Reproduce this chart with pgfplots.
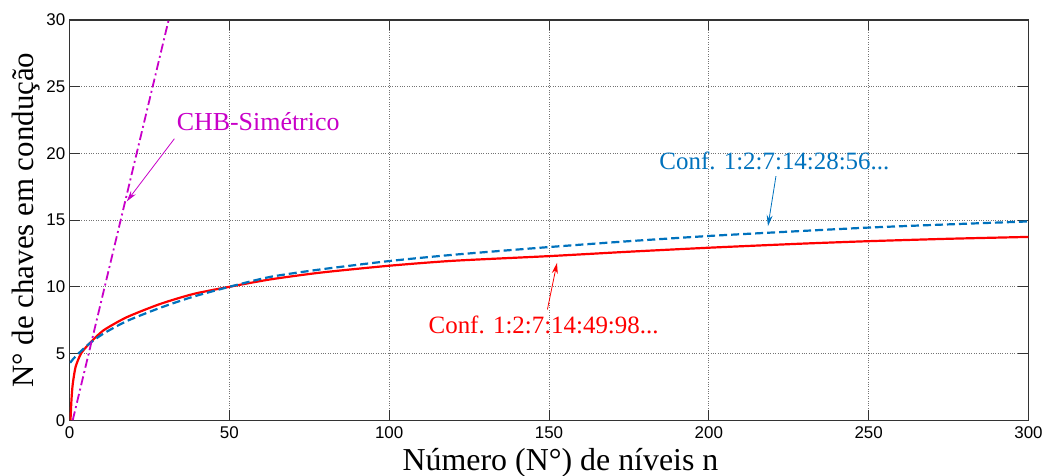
\documentclass[border=0pt]{standalone}
\usepackage{fontspec}
\setmainfont{Liberation Serif}
\newfontfamily\arialfont{Liberation Sans}
\newfontfamily\timesfont{Liberation Serif}
\usepackage{pgfplots}
\pgfplotsset{compat=1.18}
\usetikzlibrary{calc,arrows.meta}
\definecolor{mred}{RGB}{255,0,0}
\definecolor{mblue}{RGB}{0,114,189}
\definecolor{mmag}{RGB}{200,0,200}
\begin{document}
\begin{tikzpicture}
\begin{axis}[
  scale only axis, width=958.5bp, height=400bp,
  xmin=0, xmax=300, ymin=0, ymax=30,
  xtick={0,50,...,300}, ytick={0,5,...,30},
  grid=major, grid style={dotted, black!55, line width=0.9bp},
  tick align=inside, xtick pos=both, ytick pos=both,
  major tick length=10bp,
  tick style={black!80, line width=1bp},
  axis line style={black!80, line width=1.2bp},
  /pgf/number format/assume math mode=true,
  xticklabel style={font=\arialfont\fontsize{17}{20}\selectfont, anchor=north, inner sep=0pt, yshift=-6.5bp},
  yticklabel style={font=\arialfont\fontsize{17}{20}\selectfont, anchor=east, inner sep=0pt, xshift=-4bp},
  xlabel={Número (N°) de níveis n},
  ylabel={N° de chaves em condução},
  xlabel style={font=\timesfont\fontsize{32}{36}\selectfont, at={(axis description cs:0.512,-0.125)}, anchor=base, inner sep=0pt},
  ylabel style={font=\timesfont\fontsize{31}{36}\selectfont, at={(axis description cs:-0.0376,0.5)}, anchor=base, inner sep=0pt},
]
\coordinate (sw) at (rel axis cs:0,0);
\coordinate (ne) at (rel axis cs:1,1);
\addplot[mred, line width=2.2bp, smooth, tension=0.4] coordinates {
 (0.3,0) (0.6,1.5) (1,2.7) (1.9,4.0) (3.6,5.0) (6.2,5.74) (10.6,6.73) (17.9,7.72)
 (28.3,8.71) (38.7,9.46) (50,10) (62.7,10.55) (78.4,11.06) (100,11.58) (120,11.95)
 (150,12.3) (175,12.63) (200,12.93) (228.6,13.23) (250,13.42) (275,13.6) (300,13.74)};
\addplot[mblue, line width=2.2bp, dash pattern=on 8bp off 4bp, smooth, tension=0.4] coordinates {
 (0.2,4.3) (1,4.55) (2.8,5.0) (6.2,5.74) (10.6,6.49) (17.9,7.43) (28.3,8.42)
 (38.7,9.26) (50,10) (62.7,10.74) (78.4,11.3) (100,11.93) (120,12.4) (150,12.98)
 (175,13.42) (200,13.81) (222.3,14.1) (250,14.44) (275,14.68) (300,14.9)};
\addplot[mmag, line width=1.8bp, dash pattern=on 9bp off 3.5bp on 2bp off 3.5bp] coordinates {
 (1,0) (31,30)};
\node[mmag, anchor=base west, inner sep=0pt, font=\timesfont\fontsize{26}{30}\selectfont] at (axis cs:33.5,21.75) {CHB-Simétrico};
\draw[mmag, line width=0.8bp, -{Stealth[length=11bp,width=6bp]}] (axis cs:32.8,21.1) -- (axis cs:17.9,16.4);
\node[mblue, anchor=base west, inner sep=0pt, font=\timesfont\fontsize{25}{30}\selectfont] at (axis cs:184.5,18.8) {Conf. 1:2:7:14:28:56...};
\draw[mblue, line width=0.8bp, -{Stealth[length=11bp,width=6bp]}] (axis cs:221,18.3) -- (axis cs:218.5,14.55);
\node[mred, anchor=base west, inner sep=0pt, font=\timesfont\fontsize{25}{30}\selectfont] at (axis cs:112.3,6.5) {Conf. 1:2:7:14:49:98...};
\draw[mred, line width=0.8bp, -{Stealth[length=11bp,width=6bp]}] (axis cs:149.5,8.3) -- (axis cs:152.5,11.8);
\end{axis}
\pgfresetboundingbox
\path ($(sw)+(-69.5bp,-55bp)$) rectangle ($(ne)+(20.5bp,20bp)$);
\end{tikzpicture}
\end{document}
